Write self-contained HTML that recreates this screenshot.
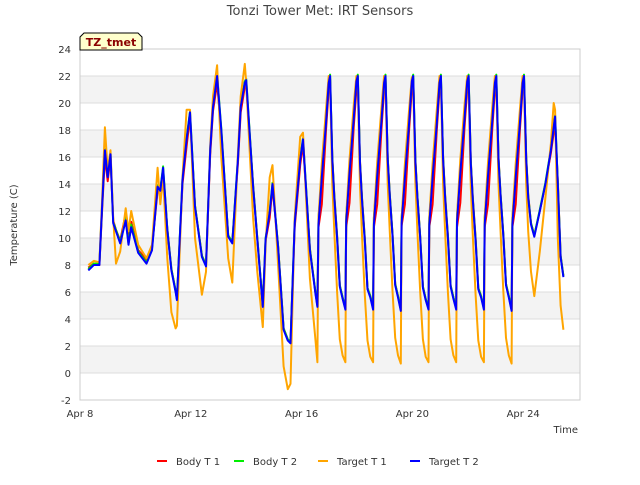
<!DOCTYPE html>
<html><head><meta charset="utf-8">
<style>
body{margin:0;background:#fff;font-family:"Liberation Sans","DejaVu Sans",sans-serif;}
svg text{font-family:"DejaVu Sans","Liberation Sans",sans-serif;}
</style></head>
<body>
<svg id="chart" width="640" height="480" xmlns="http://www.w3.org/2000/svg">
<rect x="0" y="0" width="640" height="480" fill="#fff"/>
<g id="bands"></g>
<g id="grid"></g>
<rect x="80" y="49" width="500" height="351" fill="none" stroke="#ccc"/>
<g id="ticks"></g>
<g id="series"></g>
<text x="320" y="15" text-anchor="middle" font-size="13" fill="#444">Tonzi Tower Met: IRT Sensors</text>
<text x="17" y="225" text-anchor="middle" font-size="10" fill="#333" transform="rotate(-90 17 225)">Temperature (C)</text>
<text x="578" y="433" text-anchor="end" font-size="10" fill="#333">Time</text>
<g>
<path d="M80,50 L80,37 L84,33 L138,33 L142,37 L142,50 Z" fill="#ffffcc" stroke="#000"/>
<text x="111" y="46" text-anchor="middle" font-size="11" font-weight="bold" fill="#8b0000">TZ_tmet</text>
</g>
<g id="legend"></g>
</svg>
<script>
const yTicks=[-2,0,2,4,6,8,10,12,14,16,18,20,22,24];
const xTickDays=[0,4,8,12,16];
const xTickLabels=["Apr 8","Apr 12","Apr 16","Apr 20","Apr 24"];
const seriesNames=["Body T 1","Body T 2","Target T 1","Target T 2"];
const tA=[0.3,0.5,0.7,0.8,0.9,1.0,1.1,1.2,1.3,1.45,1.65,1.75,1.85,2.1,2.4,2.6,2.8,2.9,3.0,3.15,3.3,3.45,3.5,3.7,3.85,3.97,4.15,4.4,4.55,4.7,4.8,4.95,5.1,5.35,5.5,5.7,5.8,5.95,6.0,6.25,6.4,6.6,6.7,6.85,6.95,7.15,7.35,7.5,7.6,7.75,7.95,8.05,8.3,8.5,8.57];
const tC=[8.61,8.73,8.88,8.98,9.03,9.11,9.18,9.28,9.38,9.48,9.58,
9.61,9.73,9.88,9.98,10.03,10.11,10.18,10.28,10.38,10.48,10.58,
10.61,10.73,10.88,10.98,11.03,11.11,11.18,11.28,11.38,11.48,11.58,
11.61,11.73,11.88,11.98,12.03,12.11,12.18,12.28,12.38,12.48,12.58,
12.61,12.73,12.88,12.98,13.03,13.11,13.18,13.28,13.38,13.48,13.58,
13.61,13.73,13.88,13.98,14.03,14.11,14.18,14.28,14.38,14.48,14.58,
14.61,14.73,14.88,14.98,15.03,15.11,15.18,15.28,15.38,15.48,15.58,
15.61,15.73,15.88,15.98,16.03,16.11,16.18,16.28,16.4,16.6,16.8,17.0,17.1,17.15,17.25,17.35,17.45];
const targetT2A=[7.6,8.0,8.0,12.5,16.5,14.5,16.2,11.1,10.5,9.6,11.3,9.5,10.8,8.9,8.1,9.1,13.8,13.5,15.2,10.6,7.6,6.0,5.4,14.3,17.3,19.3,12.3,8.6,7.9,16.5,19.7,22.0,18,10.1,9.6,15.8,19.7,21.5,21.7,13.8,9.9,4.9,9.9,11.9,14,9.3,3.2,2.4,2.2,11.1,15.8,17.3,9.1,5.9,4.9];
const targetT2C=[11.0,14.5,18.5,21.5,22,15.8,13,10,6.4,5.5,4.7,
11.2,14.8,18.8,21.6,22,15.5,12.8,9.8,6.2,5.6,4.7,
11.0,14.6,18.6,21.5,22,15.8,13.2,10.2,6.5,5.6,4.6,
11.1,14.5,18.5,21.6,22,15.6,13,10,6.3,5.4,4.7,
11.0,14.5,18.5,21.5,22,15.8,13,10,6.4,5.5,4.7,
11.2,14.8,18.8,21.6,22,15.5,12.8,9.8,6.2,5.6,4.7,
11.0,14.6,18.6,21.5,22,15.8,13.2,10.2,6.5,5.6,4.6,
11.0,14.5,18.5,21.5,22,15.8,13,11,10.1,12,14,16.5,18.2,19,14,8.6,7.1];
const targetT1A=[8.0,8.3,8.2,13,18.2,15,16.5,11.5,8.1,9.0,12.2,10.5,12.0,9.5,8.5,9.5,15.2,12.5,14.5,8.5,4.5,3.3,3.5,14.5,19.5,19.5,10,5.8,7.5,16.8,20.5,22.8,16,8.5,6.7,16.2,20.5,22.9,21.5,11.5,7.5,3.4,9.5,14.5,15.4,8.0,0.5,-1.2,-0.8,11.5,17.5,17.8,7.0,2.5,0.8];
const targetT1C=[11.5,15.5,19.5,22,21.5,14,10.5,6,2.5,1.3,0.8,
11.6,15.8,19.8,22,21.4,13.8,10.2,5.8,2.4,1.2,0.8,
11.5,15.6,19.6,22,21.5,14,10.6,6.1,2.6,1.3,0.7,
11.4,15.5,19.5,21.9,21.5,14.1,10.5,6,2.5,1.2,0.8,
11.5,15.5,19.5,22,21.5,14,10.5,6,2.5,1.3,0.8,
11.6,15.8,19.8,22,21.4,13.8,10.2,5.8,2.4,1.2,0.8,
11.5,15.6,19.6,22,21.5,14,10.6,6.1,2.6,1.3,0.7,
11.5,15.5,19.5,22,21.5,14,10.5,7.5,5.7,9,13,17,20,19.5,10,5,3.2];
const bodyT1A=[7.8,8.1,8.0,12.2,16.0,14.2,16.0,11.3,10.6,9.8,11.8,9.8,11.2,9.1,8.4,9.3,13.5,13.6,15.0,10.7,7.7,6.1,5.5,14.0,16.8,19.0,12.4,8.7,8.0,16.2,19.4,21.5,17.8,10.2,9.7,15.5,19.3,21.2,21.4,13.9,10.0,5.0,9.8,11.5,13.8,9.4,3.3,2.5,2.3,10.8,15.4,17.0,9.2,6.0,5.0];
const bodyT1C=[10.8,12.5,18,21,21.8,16,13.2,10.2,6.5,5.6,4.8,
10.8,12.6,18.2,21,21.8,15.7,13,10,6.3,5.7,4.8,
10.8,12.5,18,21,21.8,16,13.3,10.3,6.6,5.7,4.7,
10.9,12.5,18,21,21.8,15.8,13.1,10.1,6.4,5.5,4.8,
10.8,12.5,18,21,21.8,16,13.2,10.2,6.5,5.6,4.8,
10.8,12.6,18.2,21,21.8,15.7,13,10,6.3,5.7,4.8,
10.8,12.5,18,21,21.8,16,13.3,10.3,6.6,5.7,4.7,
10.8,12.5,18,21,21.8,16,13.2,11.1,10.2,12,14,16.3,17.8,18.6,14.2,8.7,7.2];
const bodyT2A=[7.7,8.1,8.1,12.6,16.6,14.6,16.3,11.2,10.6,9.7,11.5,9.6,11.0,9.0,8.2,9.2,13.9,13.6,15.3,10.7,7.7,6.1,5.5,14.4,17.4,19.4,12.4,8.7,8.0,16.6,19.8,22.1,18.1,10.2,9.7,15.9,19.8,21.6,21.8,13.9,10.0,5.0,10.0,12.0,14.1,9.4,3.3,2.5,2.3,11.2,15.9,17.4,9.2,6.0,5.0];
const bodyT2C=[11.5,14.6,18.6,21.6,22.1,15.9,13.1,10.1,6.5,5.6,4.8,
11.6,14.9,18.9,21.7,22.1,15.6,12.9,9.9,6.3,5.7,4.8,
11.5,14.7,18.7,21.6,22.1,15.9,13.3,10.3,6.6,5.7,4.7,
11.5,14.6,18.6,21.7,22.1,15.7,13.1,10.1,6.4,5.5,4.8,
11.5,14.6,18.6,21.6,22.1,15.9,13.1,10.1,6.5,5.6,4.8,
11.6,14.9,18.9,21.7,22.1,15.6,12.9,9.9,6.3,5.7,4.8,
11.5,14.7,18.7,21.6,22.1,15.9,13.3,10.3,6.6,5.7,4.7,
11.5,14.6,18.6,21.6,22.1,15.9,13.1,11.1,10.2,12.1,14.1,16.6,18.3,19.1,14.1,8.7,7.2];

const NS="http://www.w3.org/2000/svg";
const X0=80,X1=580,Y0=400,Y1=49,DMIN=0,DMAX=500/27.7,VMIN=-2,VMAX=24;
function xs(d){return X0+(d-DMIN)/(DMAX-DMIN)*(X1-X0);}
function ys(v){return Y0-(v-VMIN)/(VMAX-VMIN)*(Y0-Y1);}
function mk(tag,attrs,parent){const e=document.createElementNS(NS,tag);for(const k in attrs)e.setAttribute(k,attrs[k]);parent.appendChild(e);return e;}
const bands=document.getElementById('bands'),grid=document.getElementById('grid'),ticks=document.getElementById('ticks');
for(let i=0;i<yTicks.length-1;i++){
  if(yTicks[i]%4===0){
    const r=mk('rect',{x:X0,y:ys(yTicks[i]+2),width:X1-X0,height:ys(yTicks[i])-ys(yTicks[i]+2),fill:'#f3f3f3'},bands);
    
    
  }
}
yTicks.forEach(v=>{
  const l=mk('line',{x1:X0,x2:X1,y1:ys(v),y2:ys(v),stroke:'#ddd'},grid);
  
  
  const t=mk('text',{x:71,y:ys(v)+4,'text-anchor':'end','font-size':'10',fill:'#333'},ticks);
  
  
  t.textContent=v;
});
xTickDays.forEach((d,i)=>{
  const t=mk('text',{x:xs(d),y:417,'text-anchor':'middle','font-size':'10',fill:'#333'},ticks);
  
  
  t.textContent=xTickLabels[i];
});
const times=tA.concat(tC);
const data=[bodyT1A.concat(bodyT1C),bodyT2A.concat(bodyT2C),targetT1A.concat(targetT1C),targetT2A.concat(targetT2C)];
const colors=['#ff0000','#00ee00','#ffa500','#0000ff'];
const ser=document.getElementById('series');
data.forEach((vals,si)=>{
  const pts=times.map((d,i)=>xs(d).toFixed(1)+','+ys(vals[i]).toFixed(1)).join(' ');
  const p=mk('polyline',{points:pts,fill:'none',stroke:colors[si],'stroke-width':'2','stroke-linejoin':'round'},ser);
  
  
});
const lg=document.getElementById('legend');
const lx=[157,234,318,410];
seriesNames.forEach((n,i)=>{
  const g=mk('g',{},lg);
  
  
  mk('line',{x1:lx[i],x2:lx[i]+10,y1:461,y2:461,stroke:colors[i],'stroke-width':'2'},g);
  const t=mk('text',{x:lx[i]+19,y:465,'font-size':'10',fill:'#333'},g);
  t.textContent=n;
});
</script>
</body></html>
